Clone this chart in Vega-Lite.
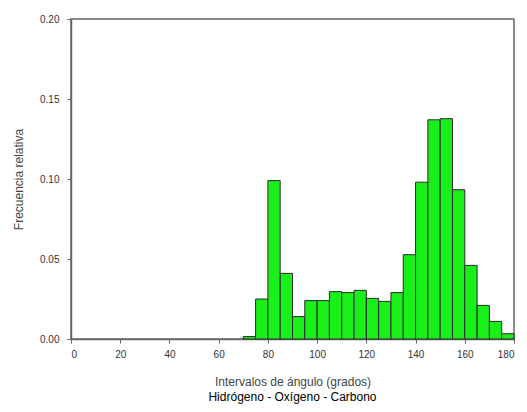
{
  "$schema": "https://vega.github.io/schema/vega-lite/v6.json",
  "width": 443,
  "height": 320,
  "autosize": {"type": "none"},
  "padding": {"left": 71, "top": 19, "right": 13, "bottom": 73},
  "background": "white",
  "config": {
    "font": "Liberation Sans",
    "view": {"stroke": "#666666", "strokeWidth": 1.5},
    "title": {"fontWeight": "normal", "fontSize": 12, "color": "#000000"},
    "axis": {
      "domainColor": "#666666",
      "domainWidth": 1.5,
      "tickColor": "#666666",
      "tickSize": 4,
      "labelFont": "Liberation Sans",
      "labelFontSize": 10,
      "labelColor": "#333333",
      "titleFont": "Liberation Sans",
      "titleFontSize": 12,
      "titleFontWeight": "normal",
      "titleColor": "#444444",
      "grid": false
    }
  },
  "title": {
    "text": "Hidrógeno - Oxígeno - Carbono",
    "orient": "bottom",
    "anchor": "middle",
    "font": "Liberation Sans",
    "fontSize": 12,
    "fontWeight": 400,
    "color": "#000000",
    "offset": 5
  },
  "data": {
    "values": [
      {"desde": 70, "hasta": 75, "frecuencia": 0.0015},
      {"desde": 75, "hasta": 80, "frecuencia": 0.025},
      {"desde": 80, "hasta": 85, "frecuencia": 0.099},
      {"desde": 85, "hasta": 90, "frecuencia": 0.041},
      {"desde": 90, "hasta": 95, "frecuencia": 0.014},
      {"desde": 95, "hasta": 100, "frecuencia": 0.024},
      {"desde": 100, "hasta": 105, "frecuencia": 0.024},
      {"desde": 105, "hasta": 110, "frecuencia": 0.0296},
      {"desde": 110, "hasta": 115, "frecuencia": 0.029},
      {"desde": 115, "hasta": 120, "frecuencia": 0.0304},
      {"desde": 120, "hasta": 125, "frecuencia": 0.0254},
      {"desde": 125, "hasta": 130, "frecuencia": 0.0235},
      {"desde": 130, "hasta": 135, "frecuencia": 0.029},
      {"desde": 135, "hasta": 140, "frecuencia": 0.0527},
      {"desde": 140, "hasta": 145, "frecuencia": 0.098},
      {"desde": 145, "hasta": 150, "frecuencia": 0.137},
      {"desde": 150, "hasta": 155, "frecuencia": 0.1377},
      {"desde": 155, "hasta": 160, "frecuencia": 0.0933},
      {"desde": 160, "hasta": 165, "frecuencia": 0.046},
      {"desde": 165, "hasta": 170, "frecuencia": 0.021},
      {"desde": 170, "hasta": 175, "frecuencia": 0.011},
      {"desde": 175, "hasta": 180, "frecuencia": 0.0033}
    ]
  },
  "mark": {"type": "rect", "fill": "#19F019", "stroke": "#2a2a2a", "strokeWidth": 1},
  "encoding": {
    "x": {
      "field": "desde",
      "type": "quantitative",
      "scale": {"domain": [0, 180], "nice": false},
      "axis": {
        "values": [0, 20, 40, 60, 80, 100, 120, 140, 160, 180],
        "title": "Intervalos de ángulo (grados)",
        "titlePadding": 17,
        "labelPadding": 6
      }
    },
    "x2": {"field": "hasta"},
    "y": {
      "field": "frecuencia",
      "type": "quantitative",
      "scale": {"domain": [0, 0.2], "nice": false},
      "axis": {
        "values": [0, 0.05, 0.1, 0.15, 0.2],
        "format": ".2f",
        "title": "Frecuencia relativa",
        "titlePadding": 14,
        "labelPadding": 8
      }
    },
    "y2": {"datum": 0}
  }
}
